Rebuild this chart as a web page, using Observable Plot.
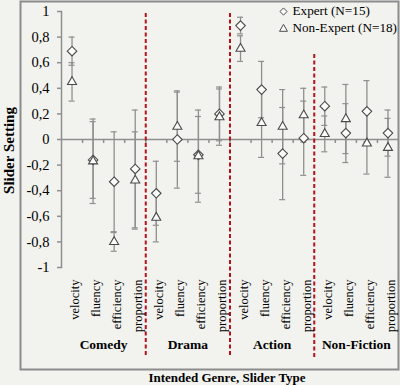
<!DOCTYPE html>
<html><head><meta charset="utf-8">
<script src="https://cdn.jsdelivr.net/npm/d3@7"></script>
<script src="https://cdn.jsdelivr.net/npm/@observablehq/plot@0.6"></script>
<style>html,body{margin:0;padding:0;background:#f2f2ee}</style>
</head><body><div id="chart"></div>
<script>
const genres = ["Comedy", "Drama", "Action", "Non-Fiction"];
const sliders = ["velocity", "fluency", "efficiency", "proportion"];
const seriesNames = ["Expert (N=15)", "Non-Expert (N=18)"];
const expertMean = [0.69, -0.16, -0.33, -0.23, -0.42, 0.00, -0.12, 0.20, 0.89, 0.39, -0.11, 0.01, 0.26, 0.05, 0.22, 0.05];
const expertErr = [0.11, 0.30, 0.39, 0.46, 0.25, 0.38, 0.30, 0.21, 0.065, 0.22, 0.36, 0.29, 0.15, 0.23, 0.24, 0.18];
const nonExpertMean = [0.45, -0.17, -0.80, -0.32, -0.61, 0.10, -0.13, 0.175, 0.71, 0.13, 0.10, 0.19, 0.044, 0.16, -0.03, -0.065];
const nonExpertErr = [0.15, 0.33, 0.073, 0.38, 0.19, 0.27, 0.36, 0.22, 0.10, 0.27, 0.29, 0.21, 0.14, 0.27, 0.24, 0.23];
const yTicks = [-1, -0.8, -0.6, -0.4, -0.2, 0, 0.2, 0.4, 0.6, 0.8, 1];

const cats = genres.flatMap((g, gi) => sliders.map((s, si) => ({i: gi * sliders.length + si, genre: g, slider: s})));
const series = [
  {name: seriesNames[0], mean: expertMean, err: expertErr, symbol: "diamond2", legendDy: 0, legendR: 3.2},
  {name: seriesNames[1], mean: nonExpertMean, err: nonExpertErr, symbol: "triangle2", legendDy: 17.5, legendR: 3.8}
];
const rows = series.flatMap((s) => cats.map((c) => ({...c, series: s.name, symbol: s.symbol, mean: s.mean[c.i], lo: s.mean[c.i] - s.err[c.i], hi: s.mean[c.i] + s.err[c.i]})));
const genreCenters = genres.map((g, gi) => ({genre: g, x: gi * sliders.length + (sliders.length - 1) / 2}));
const dividers = genres.slice(1).map((g, gi) => ({x: (gi + 1) * sliders.length - 0.5, last: gi === genres.length - 2}));
const boundaries = cats.slice(1).map((c) => c.i - 0.5);

const grey = "#8f8f8f";
const markStroke = "#4a4a4a";
const red = "#b3141c";
const font = "'Liberation Serif', 'Times New Roman', serif";

const legendMarks = series.flatMap((s) => [
  Plot.dot([s], {frameAnchor: "top-left", dx: 222, dy: s.legendDy, symbol: "symbol", r: s.legendR, fill: "#fbfbf9", stroke: markStroke, strokeWidth: 1}),
  Plot.text([s], {frameAnchor: "top-left", dx: 231, dy: s.legendDy - 1, text: "name", textAnchor: "start", lineAnchor: "middle", fontSize: 13.2, fill: "#000"})
]);

const chart = Plot.plot({
  width: 400,
  height: 385,
  marginLeft: 61,
  marginRight: 2,
  marginTop: 11,
  marginBottom: 118,
  style: {fontFamily: font, background: "#f2f2ee", color: "#000", overflow: "visible"},
  x: {type: "linear", domain: [-0.5, cats.length - 0.5], axis: null},
  y: {domain: [-1, 1], axis: null},
  symbol: {type: "identity"},
  marks: [
    // outer box
    Plot.frame({stroke: "#8c8c8c", strokeWidth: 2, insetLeft: -41, insetTop: -10, insetBottom: -102, insetRight: 0}),
    // y axis line + ticks
    Plot.frame({anchor: "left", stroke: grey, strokeWidth: 1.5}),
    Plot.axisY({ticks: yTicks, tickFormat: (d) => String(d).replace(".", ","), tickSize: 4, tickPadding: 8, fontSize: 14.5, stroke: grey, strokeWidth: 1.5, label: null}),
    // x axis line and boundary ticks
    Plot.ruleY([0], {stroke: grey, strokeWidth: 1.5}),
    Plot.ruleX(boundaries, {x: (d) => d, y1: 0, y2: 0, insetBottom: -4, stroke: grey, strokeWidth: 1.5}),
    // genre dividers
    Plot.ruleX(dividers.filter((d) => !d.last), {x: "x", insetTop: 2, insetBottom: -90, stroke: red, strokeWidth: 2, strokeDasharray: "4,2.5"}),
    Plot.ruleX(dividers.filter((d) => d.last), {x: "x", insetTop: 43, insetBottom: -91, stroke: red, strokeWidth: 2, strokeDasharray: "4,2.5"}),
    // error bars
    Plot.ruleX(rows, {x: "i", y1: "lo", y2: "hi", stroke: grey, strokeWidth: 1.3}),
    Plot.ruleY(rows, {y: "lo", x1: "i", x2: "i", insetLeft: -3, insetRight: -3, stroke: grey, strokeWidth: 1.2}),
    Plot.ruleY(rows, {y: "hi", x1: "i", x2: "i", insetLeft: -3, insetRight: -3, stroke: grey, strokeWidth: 1.2}),
    // markers
    Plot.dot(rows, {x: "i", y: "mean", symbol: "symbol", r: 4.3, fill: "#fbfbf9", stroke: markStroke, strokeWidth: 1.1}),
    // category labels
    Plot.text(cats, {x: "i", text: "slider", frameAnchor: "bottom", dy: 12, dx: 3, rotate: -90, textAnchor: "end", lineAnchor: "middle", fontSize: 12.5, fill: "#000"}),
    // genre labels
    Plot.text(genreCenters, {x: "x", text: "genre", frameAnchor: "bottom", dy: 77, lineAnchor: "middle", fontSize: 13.5, fontWeight: "bold", fill: "#000"}),
    // axis titles
    Plot.text(["Intended Genre, Slider Type"], {text: (d) => d, frameAnchor: "bottom", dy: 110, dx: -3, lineAnchor: "middle", textAnchor: "middle", fontSize: 13, fontWeight: "bold", fill: "#000"}),
    Plot.text(["Slider Setting"], {text: (d) => d, frameAnchor: "left", rotate: -90, dx: -52, dy: 11, textAnchor: "middle", lineAnchor: "middle", fontSize: 15, fontWeight: "bold", fill: "#000"}),
    // legend
    ...legendMarks
  ]
});
document.getElementById("chart").appendChild(chart);
</script>
</body></html>
